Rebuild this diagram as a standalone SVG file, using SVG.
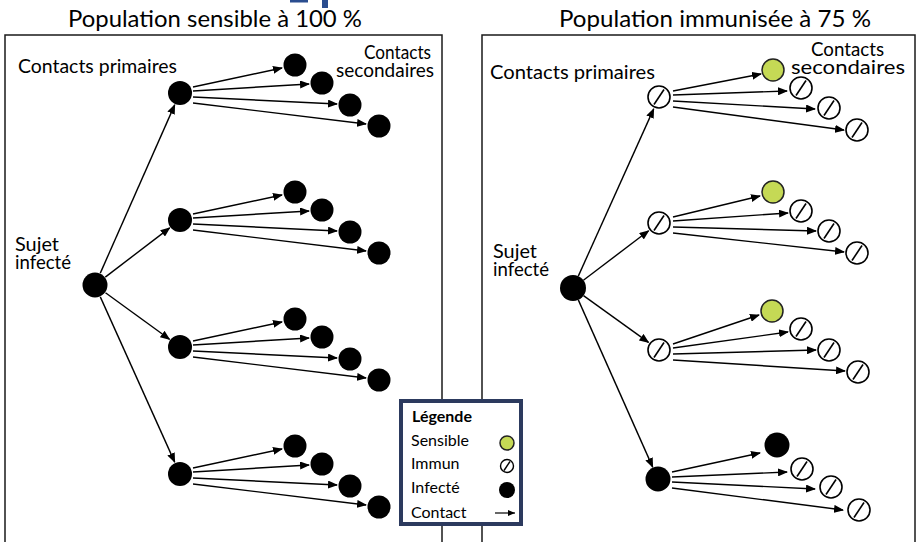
<svg xmlns="http://www.w3.org/2000/svg" xmlns:xlink="http://www.w3.org/1999/xlink" width="918" height="542" viewBox="0 0 918 542">
<style>
text{font-family:Lato,"Open Sans","Liberation Sans",sans-serif;fill:#000}
.title{font-size:22.5px}
.lbl{font-size:19.5px}
.leg{font-size:16px}
.panel{fill:#fff;stroke:#1a1a1a;stroke-width:1.5}
.inf{fill:#000}
.sen{fill:#c5d955;stroke:#222;stroke-width:1.5}
.conn line{stroke:#000;stroke-width:1.4;marker-end:url(#ah)}
</style>
<defs>
<marker id="ah" markerWidth="10" markerHeight="8" refX="9" refY="4" orient="auto" markerUnits="userSpaceOnUse">
<path d="M0,0 L10,4 L0,8 Z" fill="#000"/>
</marker>
<marker id="ahs" markerWidth="7" markerHeight="6" refX="7" refY="3" orient="auto" markerUnits="userSpaceOnUse"><path d="M0,0 L7,3 L0,6 Z" fill="#000"/></marker>
<g id="imm"><circle r="11" fill="#fff" stroke="#000" stroke-width="1.6"/><line x1="-5" y1="7.5" x2="5" y2="-7.5" stroke="#000" stroke-width="1.6"/></g>
<g id="immS"><circle r="6.5" fill="#fff" stroke="#000" stroke-width="1.4"/><line x1="-3" y1="4.5" x2="3" y2="-4.5" stroke="#000" stroke-width="1.4"/></g>
</defs>
<rect width="918" height="542" fill="#fff"/>
<rect x="290" y="0" width="18" height="2.5" fill="#2a4d8f"/>
<rect x="322" y="0" width="6" height="8" fill="#2a4d8f"/>

<text class="title" x="68" y="27" textLength="294" lengthAdjust="spacingAndGlyphs">Population sensible à 100 %</text>
<text class="title" x="559" y="27" textLength="312" lengthAdjust="spacingAndGlyphs">Population immunisée à 75 %</text>

<rect class="panel" x="5" y="35" width="437" height="530"/>
<rect class="panel" x="482" y="35" width="433" height="530"/>

<text class="lbl" x="18" y="73" textLength="159" lengthAdjust="spacingAndGlyphs">Contacts primaires</text>
<text class="lbl" x="364" y="59" textLength="67" lengthAdjust="spacingAndGlyphs">Contacts</text>
<text class="lbl" x="336" y="77" textLength="98" lengthAdjust="spacingAndGlyphs">secondaires</text>
<text class="lbl" x="15" y="251" textLength="44" lengthAdjust="spacingAndGlyphs">Sujet</text>
<text class="lbl" x="15" y="269" textLength="56" lengthAdjust="spacingAndGlyphs">infecté</text>

<text class="lbl" x="490" y="79" textLength="165" lengthAdjust="spacingAndGlyphs">Contacts primaires</text>
<text class="lbl" x="811" y="56" textLength="73" lengthAdjust="spacingAndGlyphs">Contacts</text>
<text class="lbl" x="791" y="74" textLength="114" lengthAdjust="spacingAndGlyphs">secondaires</text>
<text class="lbl" x="493" y="258" textLength="44" lengthAdjust="spacingAndGlyphs">Sujet</text>
<text class="lbl" x="493" y="276" textLength="56" lengthAdjust="spacingAndGlyphs">infecté</text>

<g id="connectors" class="conn">
<line x1="100.3" y1="273.1" x2="174.7" y2="104.9"/>
<line x1="105.3" y1="277.1" x2="169.7" y2="227.9"/>
<line x1="105.5" y1="292.7" x2="169.5" y2="339.3"/>
<line x1="100.3" y1="296.9" x2="174.7" y2="462.1"/>
<g transform="translate(180,93)"><line x1="13" y1="-6" x2="102" y2="-25"/><line x1="13" y1="-2" x2="129" y2="-9"/><line x1="13" y1="4" x2="157" y2="11"/><line x1="13" y1="10" x2="186" y2="31"/></g>
<g transform="translate(180,220)"><line x1="13" y1="-6" x2="102" y2="-25"/><line x1="13" y1="-2" x2="129" y2="-9"/><line x1="13" y1="4" x2="157" y2="11"/><line x1="13" y1="10" x2="186" y2="31"/></g>
<g transform="translate(180,347)"><line x1="13" y1="-6" x2="102" y2="-25"/><line x1="13" y1="-2" x2="129" y2="-9"/><line x1="13" y1="4" x2="157" y2="11"/><line x1="13" y1="10" x2="186" y2="31"/></g>
<g transform="translate(180,474)"><line x1="13" y1="-6" x2="102" y2="-25"/><line x1="13" y1="-2" x2="129" y2="-9"/><line x1="13" y1="4" x2="157" y2="11"/><line x1="13" y1="10" x2="186" y2="31"/></g>

<line x1="578.3" y1="276.1" x2="653.7" y2="108.9"/>
<line x1="583.4" y1="280.2" x2="648.6" y2="230.8"/>
<line x1="583.5" y1="295.6" x2="648.5" y2="342.4"/>
<line x1="578.3" y1="299.9" x2="652.7" y2="467.1"/>
<line x1="673" y1="91" x2="761" y2="74"/><line x1="673" y1="95" x2="787" y2="91"/><line x1="673" y1="101" x2="815" y2="109"/><line x1="673" y1="107" x2="844" y2="130"/>
<line x1="673" y1="217" x2="760" y2="196"/><line x1="673" y1="221" x2="788" y2="213"/><line x1="673" y1="227" x2="816" y2="231"/><line x1="673" y1="233" x2="844" y2="252"/>
<line x1="673" y1="344" x2="759" y2="315"/><line x1="673" y1="348" x2="788" y2="332"/><line x1="673" y1="354" x2="816" y2="350"/><line x1="673" y1="360" x2="845" y2="371"/>
<line x1="672" y1="472" x2="760" y2="453"/><line x1="672" y1="477" x2="787" y2="472"/><line x1="672" y1="482" x2="815" y2="489"/><line x1="672" y1="488" x2="843" y2="510"/>
</g>

<!-- Left panel nodes -->
<g id="L-sujet"><circle class="inf" cx="95" cy="285" r="12.5"/></g>
<g id="L-p1"><circle class="inf" cx="180" cy="93" r="12"/></g>
<g id="L-p1-s"><circle class="inf" cx="295" cy="65" r="11.5"/><circle class="inf" cx="322" cy="83" r="11.5"/><circle class="inf" cx="350" cy="105" r="11.5"/><circle class="inf" cx="379" cy="126" r="11.5"/></g>
<g id="L-p2"><circle class="inf" cx="180" cy="220" r="12"/></g>
<g id="L-p2-s"><circle class="inf" cx="295" cy="192" r="11.5"/><circle class="inf" cx="322" cy="210" r="11.5"/><circle class="inf" cx="350" cy="232" r="11.5"/><circle class="inf" cx="379" cy="253" r="11.5"/></g>
<g id="L-p3"><circle class="inf" cx="180" cy="347" r="12"/></g>
<g id="L-p3-s"><circle class="inf" cx="295" cy="319" r="11.5"/><circle class="inf" cx="322" cy="337" r="11.5"/><circle class="inf" cx="350" cy="359" r="11.5"/><circle class="inf" cx="379" cy="380" r="11.5"/></g>
<g id="L-p4"><circle class="inf" cx="180" cy="474" r="12"/></g>
<g id="L-p4-s"><circle class="inf" cx="295" cy="446" r="11.5"/><circle class="inf" cx="322" cy="464" r="11.5"/><circle class="inf" cx="350" cy="486" r="11.5"/><circle class="inf" cx="379" cy="507" r="11.5"/></g>

<!-- Right panel nodes -->
<g id="R-sujet"><circle class="inf" cx="573" cy="288" r="13"/></g>
<g id="R-p1"><use xlink:href="#imm" href="#imm" x="659" y="97"/></g>
<g id="R-p1-s"><circle class="sen" cx="773" cy="70" r="11"/><use href="#imm" x="801" y="88"/><use href="#imm" x="829" y="108"/><use href="#imm" x="857" y="130"/></g>
<g id="R-p2"><use href="#imm" x="659" y="223"/></g>
<g id="R-p2-s"><circle class="sen" cx="773" cy="192" r="11"/><use href="#imm" x="801" y="211"/><use href="#imm" x="829" y="231"/><use href="#imm" x="857" y="253"/></g>
<g id="R-p3"><use href="#imm" x="659" y="350"/></g>
<g id="R-p3-s"><circle class="sen" cx="772" cy="311" r="11"/><use href="#imm" x="801" y="329"/><use href="#imm" x="829" y="350"/><use href="#imm" x="858" y="372"/></g>
<g id="R-p4"><circle class="inf" cx="658" cy="479" r="12.5"/></g>
<g id="R-p4-s"><circle class="inf" cx="777" cy="445" r="12.5"/><use href="#imm" x="802" y="469"/><use href="#imm" x="831" y="487"/><use href="#imm" x="859" y="510"/></g>

<!-- Legend -->
<g id="legend">
<rect x="401" y="401" width="120" height="123" fill="#fff" stroke="#2c3a5e" stroke-width="4"/>
<text class="leg" x="412" y="422" font-weight="bold">Légende</text>
<text class="leg" x="411" y="446">Sensible</text>
<text class="leg" x="411" y="469">Immun</text>
<text class="leg" x="411" y="493">Infecté</text>
<text class="leg" x="411" y="518">Contact</text>
<circle class="sen" cx="507" cy="443" r="7"/>
<use href="#immS" x="507" y="466"/>
<circle class="inf" cx="507" cy="490" r="8"/>
<line x1="495" y1="513" x2="515" y2="513" stroke="#000" stroke-width="1.2" marker-end="url(#ahs)"/>
</g>
</svg>
